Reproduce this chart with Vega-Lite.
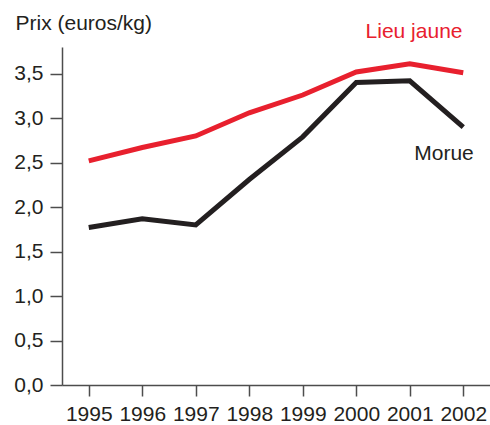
{
  "$schema": "https://vega.github.io/schema/vega-lite/v6.json",
  "autosize": {"type": "none"},
  "width": 428,
  "height": 338,
  "padding": {"left": 62, "top": 47, "right": 0, "bottom": 40},
  "config": {
    "view": {"stroke": null},
    "font": "Liberation Sans",
    "axis": {"grid": false, "domainColor": "#4d4d4d", "tickColor": "#4d4d4d", "domainWidth": 1.5, "tickWidth": 1.5, "labelColor": "#231f20", "labelFontSize": 21, "labelFont": "Liberation Sans"}
  },
  "data": {"values": [
    {"annee": 1995, "prix": 2.52, "espece": "Lieu jaune"},
    {"annee": 1996, "prix": 2.67, "espece": "Lieu jaune"},
    {"annee": 1997, "prix": 2.80, "espece": "Lieu jaune"},
    {"annee": 1998, "prix": 3.06, "espece": "Lieu jaune"},
    {"annee": 1999, "prix": 3.26, "espece": "Lieu jaune"},
    {"annee": 2000, "prix": 3.52, "espece": "Lieu jaune"},
    {"annee": 2001, "prix": 3.61, "espece": "Lieu jaune"},
    {"annee": 2002, "prix": 3.51, "espece": "Lieu jaune"},
    {"annee": 1995, "prix": 1.77, "espece": "Morue"},
    {"annee": 1996, "prix": 1.87, "espece": "Morue"},
    {"annee": 1997, "prix": 1.80, "espece": "Morue"},
    {"annee": 1998, "prix": 2.31, "espece": "Morue"},
    {"annee": 1999, "prix": 2.79, "espece": "Morue"},
    {"annee": 2000, "prix": 3.40, "espece": "Morue"},
    {"annee": 2001, "prix": 3.42, "espece": "Morue"},
    {"annee": 2002, "prix": 2.90, "espece": "Morue"}
  ]},
  "layer": [
    {
      "mark": {"type": "line", "strokeWidth": 5, "strokeJoin": "miter", "strokeCap": "butt"},
      "encoding": {
        "x": {"field": "annee", "type": "quantitative", "scale": {"domain": [1994.5, 2002.5], "nice": false, "zero": false},
          "axis": {"title": null, "values": [1995,1996,1997,1998,1999,2000,2001,2002], "format": "d", "tickSize": 11, "labelPadding": 7, "labelFlush": false}},
        "y": {"field": "prix", "type": "quantitative", "scale": {"domain": [0, 3.8], "nice": false},
          "axis": {"values": [0,0.5,1,1.5,2,2.5,3,3.5], "labelExpr": "replace(format(datum.value, '.1f'), '.', ',')", "tickSize": 12, "labelPadding": 7,
            "title": "Prix (euros/kg)", "titleAngle": 0, "titleX": -47, "titleY": -24, "titleAlign": "left", "titleBaseline": "middle", "titleFontSize": 21, "titleFontWeight": "normal", "titleColor": "#231f20", "titleFont": "Liberation Sans"}},
        "color": {"field": "espece", "type": "nominal", "scale": {"domain": ["Lieu jaune", "Morue"], "range": ["#e8202e", "#231f20"]}, "legend": null}
      }
    },
    {
      "data": {"values": [
        {"annee": 2001.08, "prix": 3.97, "espece": "Lieu jaune"},
        {"annee": 2001.64, "prix": 2.60, "espece": "Morue"}
      ]},
      "mark": {"type": "text", "fontSize": 21, "align": "center", "baseline": "middle", "font": "Liberation Sans"},
      "encoding": {
        "x": {"field": "annee", "type": "quantitative"},
        "y": {"field": "prix", "type": "quantitative"},
        "text": {"field": "espece"},
        "color": {"field": "espece", "type": "nominal", "legend": null}
      }
    }
  ]
}
